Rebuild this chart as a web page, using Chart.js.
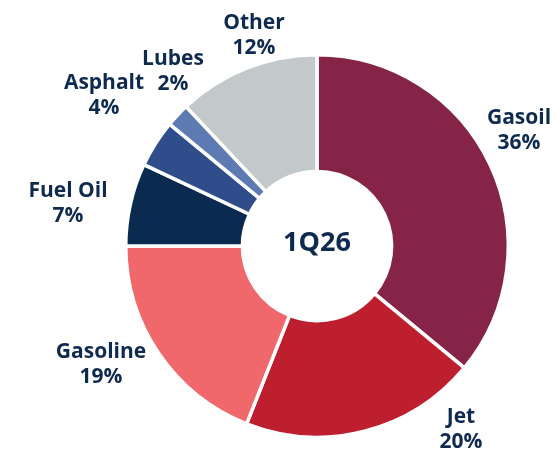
<!DOCTYPE html>
<html>
<head>
<meta charset="utf-8">
<script src="https://cdn.jsdelivr.net/npm/chart.js@4/dist/chart.umd.min.js"></script>
<style>
  html, body { margin: 0; padding: 0; background: #fff; }
  #wrap { width: 557px; height: 452px; position: relative; }
</style>
</head>
<body>
<div id="wrap"><canvas id="mixChart"></canvas></div>
<script>
// Product mix, clockwise from 12 o'clock
const products = ['Gasoil', 'Jet', 'Gasoline', 'Fuel Oil', 'Asphalt', 'Lubes', 'Other'];
const shares = [36, 20, 19, 7, 4, 2, 12];
const sliceColors = ['#852446', '#BE1F2E', '#F0686C', '#0B2A50', '#2F4D8A', '#5E7AB2', '#C3C8CA'];
const periodLabel = '1Q26';

// where each label block sits, relative to the ring centre (px)
const labelOffsets = [
    [202, -115],
    [144, 184],
    [-216, 119],
    [-249, -42],
    [-213, -150],
    [-144, -174],
    [-63, -210]
];

const textColor = '#0E2A4F';

const ringLabels = {
    id: 'ringLabels',
    afterDraw(chart) {
        const ctx = chart.ctx;
        const arc = chart.getDatasetMeta(0).data[0];
        const cx = arc.x, cy = arc.y;

        ctx.save();
        ctx.fillStyle = textColor;
        ctx.textAlign = 'center';
        ctx.textBaseline = 'middle';

        // centre caption
        ctx.font = 'bold 27px "Open Sans"';
        ctx.fillText(periodLabel, cx, cy - 3);

        // name + share outside the ring
        ctx.font = 'bold 21px "Open Sans"';
        products.forEach((name, i) => {
            const x = cx + labelOffsets[i][0];
            const y = cy + labelOffsets[i][1];
            ctx.fillText(name, x, y - 12.5);
            ctx.fillText(shares[i] + '%', x, y + 12.5);
        });
        ctx.restore();
    }
};

new Chart(document.getElementById('mixChart'), {
    type: 'doughnut',
    data: {
        labels: products,
        datasets: [{
            data: shares,
            backgroundColor: sliceColors,
            borderColor: '#ffffff',
            borderWidth: 3.5
        }]
    },
    options: {
        responsive: true,
        maintainAspectRatio: false,
        animation: false,
        cutout: '39%',
        layout: {
            padding: { left: 124, right: 47, top: 53, bottom: 13 }
        },
        plugins: {
            legend: { display: false },
            tooltip: { enabled: false }
        }
    },
    plugins: [ringLabels]
});
</script>
</body>
</html>
